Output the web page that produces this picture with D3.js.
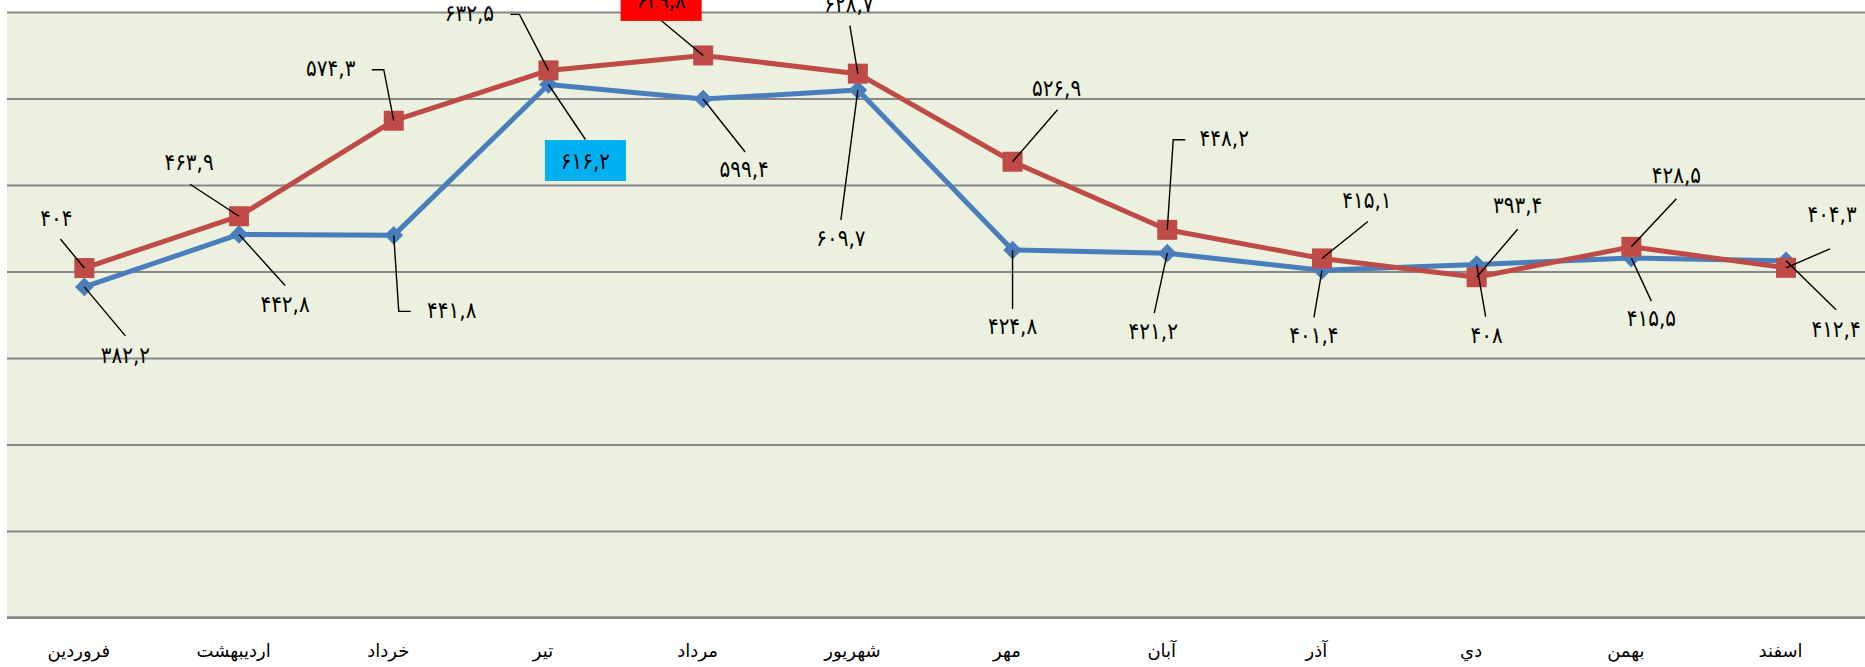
<!DOCTYPE html>
<html>
<head>
<meta charset="utf-8">
<script src="https://cdn.jsdelivr.net/npm/d3@7"></script>
<style>
    body { margin: 0; background: #fff; }
    svg { display: block; }
    .month-label { font-family: 'DejaVu Sans', sans-serif; font-size: 18px; fill: #000; }
    .data-label { font-family: 'DejaVu Sans', sans-serif; font-size: 20px; fill: #000; }
</style>
</head>
<body>
<svg id="chart"></svg>
<script>
// months of the year (Persian calendar)
const months = ['فروردین', 'اردیبهشت', 'خرداد', 'تیر', 'مرداد', 'شهریور', 'مهر', 'آبان', 'آذر', 'دي', 'بهمن', 'اسفند'];

// blue series
const blueValues = [382.2, 442.8, 441.8, 616.2, 599.4, 609.7, 424.8, 421.2, 401.4, 408, 415.5, 412.4];
// red series
const redValues = [404, 463.9, 574.3, 632.5, 649.8, 628.7, 526.9, 448.2, 415.1, 393.4, 428.5, 404.3];

// y gridline values
const yTicks = [0, 100, 200, 300, 400, 500, 600, 700];

// label placement relative to each point: label centre, leader start (+ optional elbow)
const redLabelLayout = [
    { dx: -28, dy: -50, leader: [[-24, -29]] },
    { dx: -50, dy: -54, leader: [[-49, -32]] },
    { dx: -63, dy: -53, leader: [[-22, -51], [-10, -51]] },
    { dx: -79, dy: -57, leader: [[-38, -56], [-29, -56]] },
    { dx: -42, dy: -55, leader: [[-42, -35]], box: '#FF0000' },
    { dx: -9, dy: -70, leader: [[-8, -48]] },
    { dx: 44, dy: -74, leader: [[45, -52]] },
    { dx: 57, dy: -92, leader: [[18, -90], [6, -90]] },
    { dx: 45, dy: -58, leader: [[46, -37]] },
    { dx: 41, dy: -72, leader: [[41, -48]] },
    { dx: 45, dy: -72, leader: [[45, -48]] },
    { dx: 46, dy: -54, leader: [[44, -19]] }
];

const blueLabelLayout = [
    { dx: 41, dy: 68, leader: [[41, 49]] },
    { dx: 46, dy: 69, leader: [[46, 51]] },
    { dx: 58, dy: 75, leader: [[17, 76], [5, 76]] },
    { dx: 37, dy: 76, leader: [[37, 55]], box: '#00B0F0' },
    { dx: 41, dy: 70, leader: [[42, 53]] },
    { dx: -17, dy: 148, leader: [[-17, 130]] },
    { dx: 0, dy: 76, leader: [[0, 59]] },
    { dx: -14, dy: 78, leader: [[-13, 60]] },
    { dx: -8, dy: 65, leader: [[-8, 47]] },
    { dx: 10, dy: 70, leader: [[9, 52]] },
    { dx: 20, dy: 60, leader: [[20, 43]] },
    { dx: 50, dy: 68, leader: [[50, 49]] }
];

const persianDigits = '۰۱۲۳۴۵۶۷۸۹';
function toPersian(v) {
    return String(v).replace('.', ',').replace(/\d/g, c => persianDigits[+c]);
}

class MonthlyLines {
    constructor(_config) {
        this.config = {
            parentElement: _config.parentElement,
            containerWidth: _config.containerWidth || 1865,
            containerHeight: _config.containerHeight || 667,
            margin: { top: 12, right: 1.6, bottom: 49.5, left: 7 }
        };
        this.initVis();
    }

    initVis() {
        let vis = this;
        const m = vis.config.margin;

        vis.width = vis.config.containerWidth - m.left - m.right;
        vis.height = vis.config.containerHeight - m.top - m.bottom;

        vis.xScale = d3.scalePoint()
            .domain(months)
            .range([0, vis.width])
            .padding(0.5);

        vis.yScale = d3.scaleLinear()
            .domain([0, 700])
            .range([vis.height, 0]);

        vis.svg = d3.select(vis.config.parentElement)
            .attr('width', vis.config.containerWidth)
            .attr('height', vis.config.containerHeight);

        vis.chart = vis.svg.append('g')
            .attr('transform', `translate(${m.left},${m.top})`);

        // plot area background
        vis.chart.append('rect')
            .attr('x', 0)
            .attr('y', 0)
            .attr('width', vis.config.containerWidth - m.left)
            .attr('height', vis.height)
            .attr('fill', '#EBF1DE');

        vis.gridG = vis.chart.append('g').attr('class', 'grid');
        vis.xAxisG = vis.chart.append('g')
            .attr('class', 'axis x-axis')
            .attr('transform', `translate(0,${vis.height})`);

        vis.renderVis();
    }

    renderVis() {
        let vis = this;
        const fullW = vis.config.containerWidth - vis.config.margin.left;

        // horizontal gridlines
        vis.gridG.call(d3.axisLeft(vis.yScale).tickValues(yTicks).tickSize(-fullW).tickFormat(''))
            .call(g => g.select('.domain').remove())
            .selectAll('line')
            .attr('stroke', '#878787')
            .attr('stroke-width', 2);

        // category axis
        vis.xAxisG.call(d3.axisBottom(vis.xScale).tickSize(0).tickPadding(27))
            .call(g => g.select('.domain')
                .attr('d', `M0,0H${fullW}`)
                .attr('stroke', '#878787')
                .attr('stroke-width', 2.5));
        vis.xAxisG.selectAll('text')
            .attr('class', 'month-label')
            .attr('font-family', null)
            .attr('font-size', null)
            .attr('dx', -6);

        const line = d3.line()
            .x((d, i) => vis.xScale(months[i]))
            .y(d => vis.yScale(d));

        // blue series
        vis.chart.append('path')
            .datum(blueValues)
            .attr('d', line)
            .attr('fill', 'none')
            .attr('stroke', '#4A7EBB')
            .attr('stroke-width', 5)
            .attr('stroke-linejoin', 'round');

        vis.chart.selectAll('.blue-marker')
            .data(blueValues)
            .join('path')
            .attr('class', 'blue-marker')
            .attr('d', d3.symbol(d3.symbolSquare, 175))
            .attr('transform', (d, i) => `translate(${vis.xScale(months[i])},${vis.yScale(d)}) rotate(45)`)
            .attr('fill', '#4A7EBB');

        // red series
        vis.chart.append('path')
            .datum(redValues)
            .attr('d', line)
            .attr('fill', 'none')
            .attr('stroke', '#BE4B48')
            .attr('stroke-width', 5)
            .attr('stroke-linejoin', 'round');

        vis.chart.selectAll('.red-marker')
            .data(redValues)
            .join('rect')
            .attr('class', 'red-marker')
            .attr('x', (d, i) => vis.xScale(months[i]) - 10)
            .attr('y', d => vis.yScale(d) - 10)
            .attr('width', 20)
            .attr('height', 20)
            .attr('fill', '#BE4B48');

        vis.drawLabels(redValues, redLabelLayout);
        vis.drawLabels(blueValues, blueLabelLayout);
    }

    drawLabels(values, layout) {
        let vis = this;
        const g = vis.chart.append('g').attr('class', 'labels');

        values.forEach((v, i) => {
            const px = vis.xScale(months[i]);
            const py = vis.yScale(v);
            const l = layout[i];

            const pts = l.leader.map(p => [px + p[0], py + p[1]]);
            pts.push([px, py]);
            g.append('path')
                .attr('d', d3.line()(pts))
                .attr('fill', 'none')
                .attr('stroke', '#000')
                .attr('stroke-width', 1.4);

            if (l.box) {
                g.append('rect')
                    .attr('x', px + l.dx - 40.5)
                    .attr('y', py + l.dy - 20.5)
                    .attr('width', 81)
                    .attr('height', 41)
                    .attr('fill', l.box);
            }

            g.append('text')
                .attr('class', 'data-label')
                .attr('transform', `translate(${px + l.dx},${py + l.dy}) scale(1,1.15)`)
                .attr('dy', '0.35em')
                .attr('text-anchor', 'middle')
                .text(toPersian(v));
        });
    }
}

new MonthlyLines({ parentElement: '#chart' });
</script>
</body>
</html>
